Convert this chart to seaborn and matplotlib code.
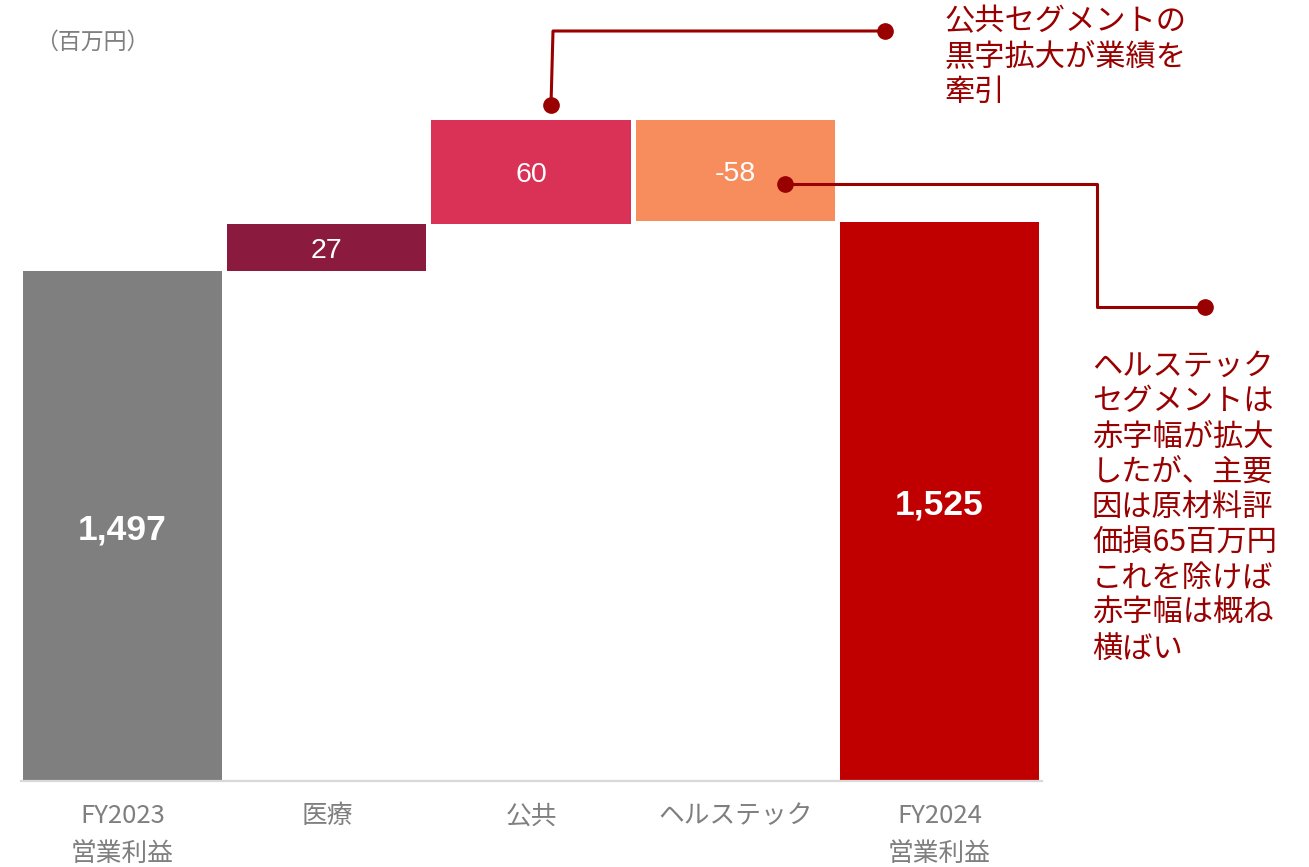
import matplotlib
matplotlib.use("Agg")
import matplotlib.pyplot as plt
import seaborn as sns
import numpy as np

# Operating profit bridge FY2023 -> FY2024 (million yen)
categories = ["FY2023\n営業利益", "医療", "公共", "ヘルステック", "FY2024\n営業利益"]
start_total = 1497
segment_changes = [27, 60, -58]
end_total = 1525
value_labels = ["1,497", "27", "60", "-58", "1,525"]
bar_colors = ["#7f7f7f", "#8b1a3f", "#da3156", "#f78c5d", "#c00000"]

# waterfall geometry: totals stand on zero, segment bars float on the running sum
bottoms = [0]
heights = [start_total]
running = start_total
for d in segment_changes:
    bottoms.append(running)
    heights.append(d)
    running += d
bottoms.append(0)
heights.append(end_total)

sns.set_theme(style="white")
plt.rcParams["font.family"] = ["Noto Sans CJK JP", "DejaVu Sans"]

W, H = 1309, 867
fig = plt.figure(figsize=(W / 100, H / 100), dpi=100)
ax = fig.add_axes([20.5 / W, (H - 781) / H, (1041.5 - 20.5) / W, (781 - 40) / H])

sns.barplot(x=categories, y=heights, bottom=bottoms, width=0.975,
            errorbar=None, ax=ax, color=bar_colors[0], saturation=1)
for patch, col in zip(ax.patches, bar_colors):
    patch.set_facecolor(col)
    patch.set_edgecolor("none")

# truncated value axis so the segment changes stay readable
y_low, y_high = 1204, 1629.8
ax.set_ylim(y_low, y_high)
ax.set_xlim(-0.5, 4.5)

# value labels centred in the visible part of each bar
for i, (b, h, lab) in enumerate(zip(bottoms, heights, value_labels)):
    lo, hi = sorted([b, b + h])
    lo = max(lo, y_low)
    total = i in (0, len(categories) - 1)
    ax.annotate(lab, (i, (lo + hi) / 2), xytext=(0, -2.5), textcoords="offset points",
                ha="center", va="center", color="white",
                fontsize=25.5 if total else 20.5, fontweight="bold" if total else "normal",
                family=["Liberation Sans", "DejaVu Sans"])

ax.set_yticks([])
ax.set_ylabel("")
ax.set_xlabel("")
for s in ["left", "right", "top"]:
    ax.spines[s].set_visible(False)
ax.spines["bottom"].set_color("#d9d9d9")
ax.spines["bottom"].set_linewidth(1.6)
ax.tick_params(axis="x", length=0, pad=16, labelsize=18.5, labelcolor="#7f7f7f")
for t in ax.get_xticklabels():
    t.set_linespacing(1.57)
    t.set_va("top")

fig.text(35 / W, 1 - 42 / H, "（百万円）", ha="left", va="center",
         fontsize=16.5, color="#7f7f7f")

# callouts drawn in figure pixel space
ann = "#990000"
def fx(x):
    return x / W
def fy(y):
    return 1 - y / H

fig.add_artist(plt.Line2D([fx(551), fx(553), fx(885)], [fy(105), fy(31), fy(31)],
                          color=ann, lw=2.2))
fig.add_artist(plt.Line2D([fx(551)], [fy(105)], marker="o", ms=11, color=ann, lw=0))
fig.add_artist(plt.Line2D([fx(885)], [fy(31)], marker="o", ms=11, color=ann, lw=0))

fig.add_artist(plt.Line2D([fx(785), fx(1097), fx(1097), fx(1205)],
                          [fy(184), fy(184), fy(307), fy(307)], color=ann, lw=2.2))
fig.add_artist(plt.Line2D([fx(785)], [fy(184)], marker="o", ms=11, color=ann, lw=0))
fig.add_artist(plt.Line2D([fx(1205)], [fy(307)], marker="o", ms=11, color=ann, lw=0))

fig.text(fx(944), fy(6), "公共セグメントの\n黒字拡大が業績を\n牽引", ha="left", va="top",
         fontsize=21.8, color=ann, linespacing=1.18)
fig.text(fx(1092), fy(351), "ヘルステック\nセグメントは\n赤字幅が拡大\nしたが、主要\n因は原材料評\n価損65百万円\nこれを除けば\n赤字幅は概ね\n横ばい",
         ha="left", va="top", fontsize=21.8, color=ann, linespacing=1.18)

fig.savefig("out.png", dpi=100, facecolor="white")
